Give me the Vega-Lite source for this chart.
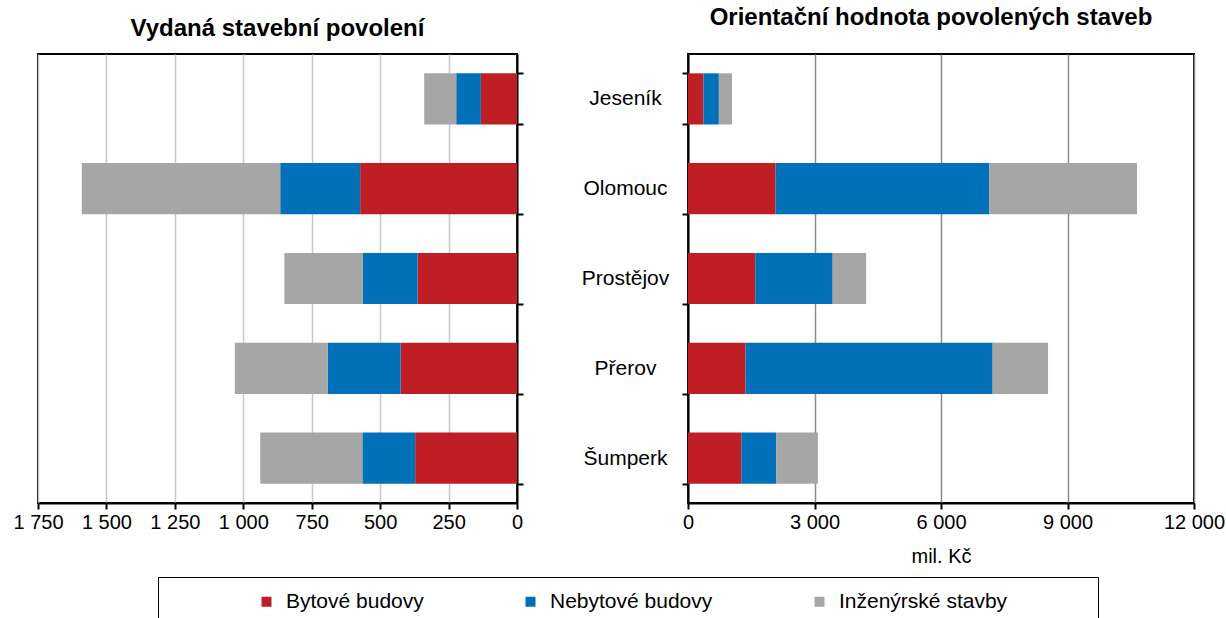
{
  "$schema": "https://vega.github.io/schema/vega-lite/v6.json",
  "padding": {"left": 11, "top": 5, "right": 0, "bottom": 0},
  "autosize": {"type": "pad"},
  "config": {
    "font": "Liberation Sans",
    "view": {"stroke": "black", "strokeWidth": 2},
    "axis": {
      "labelFont": "Liberation Sans", "labelFontSize": 20, "labelColor": "black", "labelFlush": false, "labelOverlap": false,
      "domainColor": "black", "domainWidth": 2, "tickColor": "black", "tickWidth": 2,
      "titleFont": "Liberation Sans", "titleFontSize": 20, "titleFontWeight": "normal", "titleColor": "black"
    },
    "title": {"font": "Liberation Sans", "fontSize": 24, "fontWeight": "bold", "color": "black"},
    "concat": {"spacing": 55}
  },
  "datasets": {
    "d": [
      {"okres": "Jeseník", "druh": "Bytové budovy", "poradi": 1, "povoleni": 132, "hodnota": 366},
      {"okres": "Jeseník", "druh": "Nebytové budovy", "poradi": 2, "povoleni": 90, "hodnota": 366},
      {"okres": "Jeseník", "druh": "Inženýrské stavby", "poradi": 3, "povoleni": 117, "hodnota": 311},
      {"okres": "Olomouc", "druh": "Bytové budovy", "poradi": 1, "povoleni": 573, "hodnota": 2077},
      {"okres": "Olomouc", "druh": "Nebytové budovy", "poradi": 2, "povoleni": 292, "hodnota": 5068},
      {"okres": "Olomouc", "druh": "Inženýrské stavby", "poradi": 3, "povoleni": 725, "hodnota": 3504},
      {"okres": "Prostějov", "druh": "Bytové budovy", "poradi": 1, "povoleni": 363, "hodnota": 1595},
      {"okres": "Prostějov", "druh": "Nebytové budovy", "poradi": 2, "povoleni": 200, "hodnota": 1836},
      {"okres": "Prostějov", "druh": "Inženýrské stavby", "poradi": 3, "povoleni": 287, "hodnota": 793},
      {"okres": "Přerov", "druh": "Bytové budovy", "poradi": 1, "povoleni": 425, "hodnota": 1365},
      {"okres": "Přerov", "druh": "Nebytové budovy", "poradi": 2, "povoleni": 267, "hodnota": 5860},
      {"okres": "Přerov", "druh": "Inženýrské stavby", "poradi": 3, "povoleni": 339, "hodnota": 1314},
      {"okres": "Šumperk", "druh": "Bytové budovy", "poradi": 1, "povoleni": 372, "hodnota": 1264},
      {"okres": "Šumperk", "druh": "Nebytové budovy", "poradi": 2, "povoleni": 193, "hodnota": 833},
      {"okres": "Šumperk", "druh": "Inženýrské stavby", "poradi": 3, "povoleni": 373, "hodnota": 983}
    ]
  },
  "hconcat": [
    {
      "width": 479, "height": 449,
      "title": {"text": "Vydaná stavební povolení", "frame": "group", "offset": 13},
      "data": {"name": "d"},
      "mark": {"type": "bar"},
      "encoding": {
        "y": {
          "field": "okres", "type": "nominal",
          "sort": ["Jeseník", "Olomouc", "Prostějov", "Přerov", "Šumperk"],
          "scale": {"paddingInner": 0.43, "paddingOuter": 0.215},
          "axis": {"orient": "right", "labels": false, "title": null, "tickBand": "extent", "tickSize": 6}
        },
        "x": {
          "field": "povoleni", "type": "quantitative", "stack": "zero",
          "scale": {"domain": [0, 1750], "reverse": true, "nice": false},
          "axis": {
            "values": [0, 250, 500, 750, 1000, 1250, 1500, 1750],
            "title": null, "grid": true, "gridColor": "#c8c8c8", "gridWidth": 1.5,
            "tickSize": 6, "labelPadding": 3,
            "labelExpr": "replace(format(datum.value, ','), ',', ' ')"
          }
        },
        "color": {
          "field": "druh", "type": "nominal",
          "scale": {
            "domain": ["Bytové budovy", "Nebytové budovy", "Inženýrské stavby"],
            "range": ["#be1e24", "#0070b9", "#a6a6a6"]
          },
          "legend": {
            "orient": "none", "direction": "horizontal", "columns": 3,
            "legendX": 120, "legendY": 523,
            "title": "\u00a0", "titleOrient": "right", "titlePadding": 77,
            "strokeColor": "black", "fillColor": "white",
            "padding": 14, "symbolOffset": 84, "columnPadding": 12,
            "symbolType": "square", "symbolSize": 100, "symbolStrokeWidth": 0,
            "labelFont": "Liberation Sans", "labelFontSize": 21, "labelColor": "black", "labelOffset": 9, "labelLimit": 400
          }
        },
        "order": {"field": "poradi", "type": "quantitative"}
      }
    },
    {
      "width": 506, "height": 449,
      "title": {"text": "Orientační hodnota povolených staveb", "frame": "group", "offset": 13, "dx": -10},
      "data": {"name": "d"},
      "mark": {"type": "bar"},
      "encoding": {
        "y": {
          "field": "okres", "type": "nominal",
          "sort": ["Jeseník", "Olomouc", "Prostějov", "Přerov", "Šumperk"],
          "scale": {"paddingInner": 0.43, "paddingOuter": 0.215},
          "axis": {"title": null, "tickBand": "extent", "tickSize": 6, "labelAlign": "center", "labelPadding": 57, "labelFontSize": 21}
        },
        "x": {
          "field": "hodnota", "type": "quantitative", "stack": "zero",
          "scale": {"domain": [0, 12000], "nice": false},
          "axis": {
            "values": [0, 3000, 6000, 9000, 12000],
            "title": "mil. Kč", "titlePadding": 14,
            "grid": true, "gridColor": "#8c8c8c", "gridWidth": 1.5,
            "tickSize": 6, "labelPadding": 3,
            "labelExpr": "replace(format(datum.value, ','), ',', ' ')"
          }
        },
        "color": {
          "field": "druh", "type": "nominal",
          "scale": {
            "domain": ["Bytové budovy", "Nebytové budovy", "Inženýrské stavby"],
            "range": ["#be1e24", "#0070b9", "#a6a6a6"]
          }
        },
        "order": {"field": "poradi", "type": "quantitative"}
      }
    }
  ]
}
